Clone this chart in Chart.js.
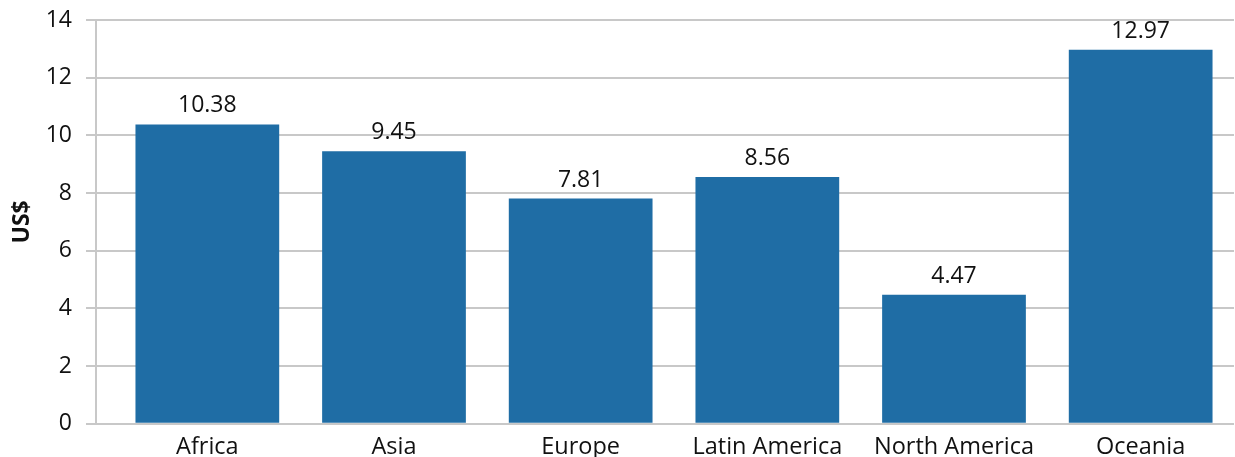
<!DOCTYPE html>
<html>
<head>
<meta charset="utf-8">
<script src="https://cdn.jsdelivr.net/npm/chart.js"></script>
<style>
  html, body { margin: 0; padding: 0; background: #fff; }
  #wrap { width: 1235px; height: 457px; }
</style>
</head>
<body>
<div id="wrap"><canvas id="chart" width="1235" height="457"></canvas></div>
<script>
// data
const regions = ['Africa', 'Asia', 'Europe', 'Latin America', 'North America', 'Oceania'];
const costs = [10.38, 9.45, 7.81, 8.56, 4.47, 12.97];
const yTicks = [0, 2, 4, 6, 8, 10, 12, 14];

const FONT = "'Open Sans', 'Noto Sans', sans-serif";
const GRID = '#c8c8c8';
const AXIS_GAP = 18; // y axis line sits a bit left of the first category

// value labels above each bar
const barLabels = {
    id: 'barLabels',
    afterDatasetsDraw(chart) {
        const ctx = chart.ctx;
        const meta = chart.getDatasetMeta(0);
        ctx.save();
        ctx.font = '23px ' + FONT;
        ctx.fillStyle = '#111';
        ctx.textAlign = 'center';
        ctx.textBaseline = 'alphabetic';
        meta.data.forEach((bar, i) => {
            ctx.fillText(costs[i].toFixed(2), bar.x, bar.y - 12);
        });
        ctx.restore();
    }
};

// vertical axis line drawn left of the plot area
const yAxisLine = {
    id: 'yAxisLine',
    beforeDatasetsDraw(chart) {
        const { ctx, chartArea } = chart;
        const x = chartArea.left - AXIS_GAP;
        ctx.save();
        ctx.strokeStyle = GRID;
        ctx.lineWidth = 2;
        ctx.beginPath();
        ctx.moveTo(x, chartArea.top);
        ctx.lineTo(x, chartArea.bottom + 1);
        ctx.stroke();
        ctx.restore();
    }
};

new Chart(document.getElementById('chart'), {
    type: 'bar',
    data: {
        labels: regions,
        datasets: [{
            data: costs,
            backgroundColor: '#1f6da5',
            categoryPercentage: 0.77,
            barPercentage: 1.0
        }]
    },
    options: {
        responsive: false,
        animation: false,
        layout: { padding: { top: 0, right: 1, left: 0, bottom: -5 } },
        plugins: { legend: { display: false }, tooltip: { enabled: false } },
        scales: {
            x: {
                grid: { display: false },
                border: { display: false },
                ticks: { color: '#111', font: { family: FONT, size: 23.5 }, padding: 1, maxRotation: 0 }
            },
            y: {
                min: 0,
                max: 14,
                afterBuildTicks: axis => { axis.ticks = yTicks.map(v => ({ value: v })); },
                afterFit: axis => {
                    axis.width = 114;
                    axis.paddingTop = 20;
                },
                grid: { color: GRID, lineWidth: 2, tickLength: 10 + AXIS_GAP },
                border: { display: false },
                ticks: { color: '#111', font: { family: FONT, size: 23 }, padding: 14 },
                title: {
                    display: true,
                    text: 'US$',
                    color: '#111',
                    font: { family: FONT, size: 23, weight: 'bold' },
                    padding: { top: 9, bottom: 0 }
                }
            }
        }
    },
    plugins: [barLabels, yAxisLine]
});
</script>
</body>
</html>
